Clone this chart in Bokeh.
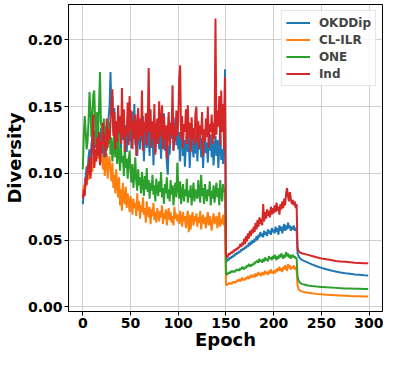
from bokeh.plotting import figure
from bokeh.models import Range1d, FixedTicker, Legend, LegendItem, NumeralTickFormatter
from bokeh.embed import file_html
from bokeh.resources import INLINE

# ---------------- data ----------------
epochs = list(range(225)) + [225, 226, 227, 228, 230, 233, 236, 240, 245, 250,
                             255, 260, 265, 270, 275, 280, 285, 290, 295, 299]

okddip = [
    0.077, 0.085, 0.092, 0.098, 0.105, 0.101, 0.112, 0.118, 0.108, 0.121,
    0.128, 0.115, 0.132, 0.119, 0.125, 0.138, 0.113, 0.129, 0.121, 0.134,
    0.118, 0.127, 0.109, 0.131, 0.122, 0.136, 0.128, 0.142, 0.150, 0.176,
    0.146, 0.158, 0.131, 0.149, 0.127, 0.138, 0.121, 0.143, 0.129, 0.134,
    0.118, 0.139, 0.125, 0.147, 0.122, 0.136, 0.116, 0.131, 0.141, 0.124,
    0.135, 0.119, 0.146, 0.128, 0.152, 0.121, 0.133, 0.113, 0.127, 0.140,
    0.118, 0.131, 0.124, 0.143, 0.109, 0.128, 0.137, 0.119, 0.146, 0.125,
    0.113, 0.132, 0.121, 0.138, 0.106, 0.127, 0.116, 0.134, 0.122, 0.141,
    0.118, 0.129, 0.111, 0.136, 0.124, 0.145, 0.117, 0.131, 0.108, 0.099,
    0.121, 0.114, 0.133, 0.126, 0.139, 0.117, 0.128, 0.142, 0.121, 0.134,
    0.118, 0.131, 0.109, 0.127, 0.136, 0.113, 0.125, 0.105, 0.122, 0.131,
    0.116, 0.128, 0.104, 0.121, 0.134, 0.119, 0.112, 0.127, 0.115, 0.131,
    0.109, 0.124, 0.118, 0.131, 0.112, 0.126, 0.104, 0.121, 0.132, 0.115,
    0.123, 0.108, 0.127, 0.117, 0.129, 0.112, 0.124, 0.106, 0.119, 0.128,
    0.113, 0.125, 0.104, 0.121, 0.131, 0.110, 0.118, 0.107, 0.124, 0.178,
    0.035, 0.034, 0.036, 0.035, 0.037, 0.036, 0.038, 0.037, 0.039, 0.038,
    0.040, 0.039, 0.041, 0.040, 0.042, 0.041, 0.043, 0.042, 0.044, 0.043,
    0.045, 0.044, 0.046, 0.045, 0.048, 0.046, 0.049, 0.047, 0.050, 0.048,
    0.051, 0.049, 0.053, 0.050, 0.054, 0.052, 0.056, 0.053, 0.055, 0.052,
    0.057, 0.054, 0.056, 0.053, 0.058, 0.055, 0.057, 0.054, 0.059, 0.056,
    0.058, 0.055, 0.060, 0.056, 0.059, 0.054, 0.061, 0.057, 0.060, 0.055,
    0.059, 0.062, 0.057, 0.061, 0.058, 0.063, 0.059, 0.061, 0.057, 0.060,
    0.058, 0.061, 0.057, 0.059, 0.058,
    0.0400, 0.0380, 0.0368, 0.0360, 0.0350, 0.0340, 0.0331, 0.0318, 0.0304, 0.0292,
    0.0281, 0.0272, 0.0264, 0.0257, 0.0251, 0.0247, 0.0243, 0.0240, 0.0237, 0.0235,
]

cl_ilr = [
    0.083, 0.091, 0.087, 0.096, 0.092, 0.101, 0.095, 0.104, 0.098, 0.107,
    0.101, 0.112, 0.105, 0.118, 0.109, 0.121, 0.111, 0.125, 0.114, 0.108,
    0.117, 0.103, 0.112, 0.098, 0.109, 0.115, 0.096, 0.107, 0.113, 0.101,
    0.094, 0.108, 0.089, 0.099, 0.085, 0.103, 0.091, 0.082, 0.097, 0.076,
    0.088, 0.072, 0.093, 0.081, 0.077, 0.090, 0.074, 0.085, 0.079, 0.071,
    0.083, 0.076, 0.069, 0.081, 0.074, 0.078, 0.068, 0.085, 0.072, 0.079,
    0.066, 0.076, 0.071, 0.082, 0.069, 0.074, 0.063, 0.079, 0.071, 0.067,
    0.075, 0.062, 0.073, 0.068, 0.078, 0.065, 0.071, 0.063, 0.074, 0.069,
    0.064, 0.072, 0.067, 0.076, 0.062, 0.070, 0.066, 0.073, 0.061, 0.069,
    0.074, 0.065, 0.071, 0.063, 0.068, 0.061, 0.075, 0.066, 0.070, 0.064,
    0.069, 0.062, 0.072, 0.066, 0.060, 0.071, 0.064, 0.068, 0.059, 0.067,
    0.072, 0.056, 0.069, 0.058, 0.066, 0.071, 0.061, 0.068, 0.064, 0.070,
    0.060, 0.067, 0.063, 0.072, 0.058, 0.065, 0.069, 0.062, 0.067, 0.059,
    0.066, 0.071, 0.061, 0.068, 0.063, 0.057, 0.066, 0.070, 0.062, 0.065,
    0.068, 0.059, 0.064, 0.071, 0.060, 0.066, 0.062, 0.069, 0.061, 0.067,
    0.017, 0.016, 0.017, 0.018, 0.017, 0.018, 0.017, 0.019, 0.018, 0.019,
    0.018, 0.019, 0.020, 0.019, 0.021, 0.019, 0.020, 0.022, 0.020, 0.021,
    0.020, 0.022, 0.021, 0.023, 0.021, 0.022, 0.024, 0.022, 0.023, 0.024,
    0.022, 0.025, 0.023, 0.024, 0.026, 0.024, 0.025, 0.023, 0.026, 0.025,
    0.024, 0.027, 0.025, 0.026, 0.024, 0.027, 0.025, 0.028, 0.026, 0.025,
    0.027, 0.025, 0.028, 0.026, 0.029, 0.027, 0.030, 0.027, 0.029, 0.026,
    0.030, 0.028, 0.031, 0.029, 0.027, 0.032, 0.029, 0.031, 0.028, 0.030,
    0.029, 0.031, 0.028, 0.030, 0.027,
    0.0160, 0.0135, 0.0125, 0.0120, 0.0114, 0.0109, 0.0105, 0.0101, 0.0097, 0.0094,
    0.0091, 0.0089, 0.0087, 0.0085, 0.0083, 0.0081, 0.0080, 0.0079, 0.0078, 0.0077,
]

one = [
    0.103, 0.128, 0.143, 0.131, 0.118, 0.124, 0.139, 0.161, 0.148, 0.127,
    0.142, 0.159, 0.162, 0.137, 0.121, 0.146, 0.129, 0.151, 0.176, 0.138,
    0.132, 0.119, 0.141, 0.126, 0.135, 0.117, 0.129, 0.122, 0.138, 0.114,
    0.127, 0.109, 0.118, 0.131, 0.112, 0.124, 0.107, 0.136, 0.115, 0.102,
    0.119, 0.108, 0.113, 0.098, 0.121, 0.104, 0.111, 0.096, 0.109, 0.117,
    0.101, 0.093, 0.107, 0.089, 0.099, 0.112, 0.094, 0.087, 0.103, 0.091,
    0.097, 0.085, 0.101, 0.092, 0.083, 0.098, 0.088, 0.104, 0.086, 0.095,
    0.081, 0.093, 0.087, 0.099, 0.084, 0.091, 0.079, 0.096, 0.088, 0.083,
    0.094, 0.086, 0.101, 0.082, 0.089, 0.077, 0.092, 0.085, 0.097, 0.081,
    0.088, 0.079, 0.095, 0.084, 0.091, 0.076, 0.087, 0.093, 0.082, 0.108,
    0.089, 0.081, 0.094, 0.077, 0.086, 0.092, 0.079, 0.088, 0.083, 0.096,
    0.078, 0.087, 0.082, 0.091, 0.076, 0.085, 0.093, 0.079, 0.088, 0.084,
    0.081, 0.095, 0.086, 0.078, 0.099, 0.083, 0.089, 0.077, 0.092, 0.084,
    0.079, 0.088, 0.083, 0.094, 0.076, 0.087, 0.081, 0.091, 0.078, 0.086,
    0.093, 0.082, 0.089, 0.076, 0.095, 0.084, 0.079, 0.092, 0.086, 0.089,
    0.025, 0.024, 0.025, 0.026, 0.025, 0.026, 0.027, 0.026, 0.027, 0.026,
    0.027, 0.028, 0.027, 0.028, 0.027, 0.029, 0.028, 0.030, 0.029, 0.028,
    0.030, 0.029, 0.031, 0.030, 0.032, 0.031, 0.030, 0.032, 0.031, 0.033,
    0.032, 0.034, 0.033, 0.035, 0.033, 0.036, 0.034, 0.035, 0.033, 0.036,
    0.034, 0.037, 0.035, 0.036, 0.034, 0.038, 0.036, 0.037, 0.035, 0.038,
    0.036, 0.039, 0.037, 0.035, 0.038, 0.036, 0.039, 0.037, 0.040, 0.038,
    0.036, 0.039, 0.037, 0.041, 0.038, 0.040, 0.037, 0.039, 0.036, 0.038,
    0.039, 0.037, 0.038, 0.036, 0.037,
    0.0230, 0.0200, 0.0185, 0.0178, 0.0170, 0.0165, 0.0160, 0.0156, 0.0152, 0.0149,
    0.0146, 0.0144, 0.0142, 0.0140, 0.0138, 0.0137, 0.0136, 0.0135, 0.0134, 0.0133,
]

ind = [
    0.081, 0.088, 0.083, 0.097, 0.091, 0.106, 0.099, 0.112, 0.096, 0.108,
    0.121, 0.144, 0.104, 0.118, 0.109, 0.127, 0.113, 0.131, 0.106, 0.124,
    0.115, 0.138, 0.121, 0.129, 0.112, 0.141, 0.119, 0.133, 0.125, 0.137,
    0.152, 0.163, 0.128, 0.146, 0.118, 0.139, 0.124, 0.151, 0.131, 0.143,
    0.122, 0.164, 0.127, 0.148, 0.116, 0.135, 0.129, 0.153, 0.121, 0.158,
    0.132, 0.147, 0.118, 0.139, 0.126, 0.144, 0.113, 0.136, 0.149, 0.124,
    0.141, 0.128, 0.162, 0.117, 0.138, 0.131, 0.145, 0.121, 0.135, 0.179,
    0.131, 0.148, 0.119, 0.139, 0.126, 0.152, 0.114, 0.133, 0.141, 0.122,
    0.154, 0.127, 0.139, 0.151, 0.118, 0.143, 0.125, 0.136, 0.111, 0.132,
    0.146, 0.121, 0.138, 0.129, 0.166, 0.117, 0.135, 0.124, 0.147, 0.128,
    0.139, 0.171, 0.181, 0.126, 0.143, 0.119, 0.137, 0.131, 0.148, 0.122,
    0.151, 0.127, 0.138, 0.116, 0.142, 0.125, 0.134, 0.121, 0.145, 0.150,
    0.123, 0.139, 0.118, 0.136, 0.129, 0.146, 0.113, 0.133, 0.124, 0.141,
    0.127, 0.150, 0.119, 0.137, 0.131, 0.144, 0.122, 0.138, 0.126, 0.216,
    0.129, 0.147, 0.135, 0.158, 0.121, 0.162, 0.131, 0.152, 0.118, 0.172,
    0.039, 0.037, 0.038, 0.040, 0.039, 0.041, 0.040, 0.042, 0.041, 0.043,
    0.042, 0.044, 0.043, 0.045, 0.044, 0.047, 0.045, 0.048, 0.046, 0.051,
    0.047, 0.053, 0.049, 0.055, 0.051, 0.057, 0.053, 0.058, 0.055, 0.060,
    0.056, 0.063, 0.058, 0.065, 0.060, 0.067, 0.062, 0.066, 0.061, 0.077,
    0.064, 0.071, 0.066, 0.073, 0.068, 0.072, 0.067, 0.075, 0.069, 0.074,
    0.070, 0.076, 0.071, 0.078, 0.072, 0.075, 0.069, 0.077, 0.073, 0.079,
    0.074, 0.081, 0.076, 0.085, 0.089, 0.083, 0.079, 0.086, 0.081, 0.077,
    0.080, 0.076, 0.079, 0.074, 0.077,
    0.0440, 0.0420, 0.0410, 0.0405, 0.0400, 0.0395, 0.0389, 0.0381, 0.0371, 0.0362,
    0.0356, 0.0350, 0.0344, 0.0340, 0.0337, 0.0334, 0.0331, 0.0329, 0.0327, 0.0326,
]

series_names = ["OKDDip", "CL-ILR", "ONE", "Ind"]
series_values = [okddip, cl_ilr, one, ind]
series_colors = ["#1f77b4", "#ff7f0e", "#2ca02c", "#d62728"]
x_ticks = [0, 50, 100, 150, 200, 250, 300]
y_ticks = [0.00, 0.05, 0.10, 0.15, 0.20]

FONT = "DejaVu Sans"

p = figure(width=383, height=352, output_backend="svg", toolbar_location=None,
           x_range=Range1d(-15, 314), y_range=Range1d(-0.0035, 0.2265),
           min_border_left=20, min_border_right=1, min_border_top=4, min_border_bottom=20)

items = []
for name, vals, col in zip(series_names, series_values, series_colors):
    r = p.line(epochs, vals, line_color=col, line_width=2)
    items.append(LegendItem(label=name, renderers=[r]))

legend = Legend(items=items, location="top_right")
legend.label_text_font = FONT
legend.label_text_font_style = "bold"
legend.label_text_font_size = "12px"
legend.glyph_width = 24
legend.glyph_height = 15
legend.label_standoff = 9
legend.label_height = 15
legend.spacing = 2
legend.padding = 4
legend.margin = 6
legend.border_line_color = "#cccccc"
legend.border_line_width = 1
legend.background_fill_alpha = 0.8
p.add_layout(legend)

p.outline_line_color = "black"
p.outline_line_width = 1
p.background_fill_color = "white"

p.xgrid.grid_line_color = "#b0b0b0"
p.ygrid.grid_line_color = "#b0b0b0"
p.xgrid.grid_line_alpha = 0.6
p.ygrid.grid_line_alpha = 0.6
p.xgrid.ticker = FixedTicker(ticks=x_ticks)
p.ygrid.ticker = FixedTicker(ticks=y_ticks)

p.xaxis.ticker = FixedTicker(ticks=x_ticks)
p.yaxis.ticker = FixedTicker(ticks=y_ticks)
p.yaxis.formatter = NumeralTickFormatter(format="0.00")

for ax in (p.xaxis[0], p.yaxis[0]):
    ax.major_label_text_font = FONT
    ax.major_label_text_font_style = "bold"
    ax.major_label_text_font_size = "14px"
    ax.major_label_text_color = "black"
    ax.axis_label_text_font = FONT
    ax.axis_label_text_font_style = "bold"
    ax.axis_label_text_font_size = "18px"
    ax.axis_label_text_color = "black"
    ax.minor_tick_line_color = None
    ax.major_tick_in = 0
    ax.major_tick_out = 4
    ax.major_tick_line_color = "black"
    ax.axis_line_color = "black"
    ax.major_label_standoff = 2

p.xaxis.axis_label_text_line_height = 0.8
p.xaxis.major_label_text_line_height = 1.0

p.xaxis.axis_label = "Epoch"
p.yaxis.axis_label = "Diversity"
p.xaxis.axis_label_standoff = -2
p.yaxis.axis_label_standoff = 0

open("out.html", "w").write(file_html(p, INLINE))
